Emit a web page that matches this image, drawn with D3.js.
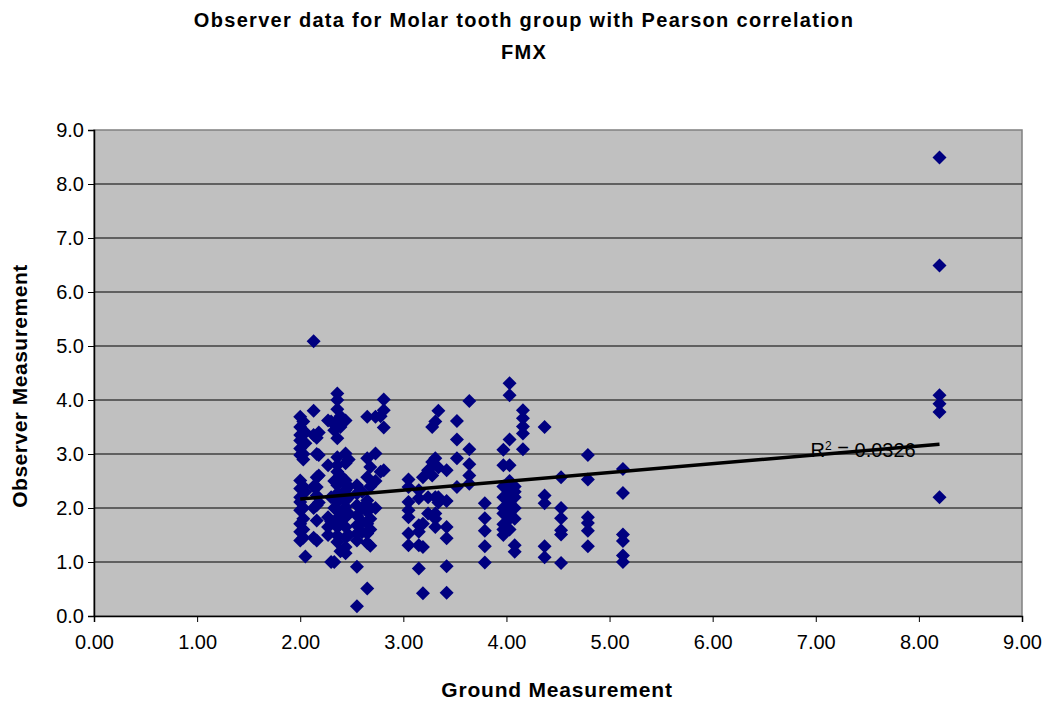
<!DOCTYPE html>
<html>
<head>
<meta charset="utf-8">
<script src="https://cdn.jsdelivr.net/npm/d3@7"></script>
<style>
  body { margin: 0; background: #fff; }
  text { font-family: "Liberation Sans", Arial, sans-serif; }
</style>
</head>
<body>
<svg id="chart"></svg>
<script>
// ground measurement levels, and observer readings taken at each level
const groundLevels = [2.00, 2.03, 2.05, 2.13, 2.16, 2.18, 2.27, 2.30, 2.33, 2.36, 2.39, 2.44, 2.47,
    2.55, 2.60, 2.65, 2.68, 2.73, 2.78, 2.81,
    3.05, 3.15, 3.19, 3.24, 3.28, 3.31, 3.34, 3.42, 3.52, 3.64,
    3.79, 3.97, 4.03, 4.08, 4.16, 4.37, 4.53, 4.79, 5.13, 8.20];

const observerReadings = [
    [3.69, 3.5, 3.35, 3.25, 3.1, 2.98, 2.51, 2.36, 2.2, 2.11, 1.96, 1.71, 1.56, 1.4],
    [3.6, 3.0, 2.9, 2.4, 2.0, 1.8, 1.6, 1.45],
    [3.4, 3.2, 2.3, 1.1],
    [5.09, 3.8, 3.35, 2.4, 2.0, 1.45],
    [3.3, 3.0, 2.57, 2.39, 2.23, 2.05, 1.77, 1.4],
    [3.4, 2.98, 2.6, 2.1],
    [3.62, 2.79, 1.83, 1.65, 1.5],
    [3.6, 2.2, 1.75, 1.0],
    [3.44, 2.5, 2.0, 1.0],
    [4.12, 4.0, 3.83, 3.62, 3.29, 2.94, 2.79, 2.67, 2.42, 2.27, 2.11, 1.96, 1.81, 1.65, 1.49, 1.37],
    [3.7, 3.5, 2.6, 2.2, 1.9, 1.7, 1.2],
    [3.62, 3.01, 2.83, 2.51, 2.33, 2.14, 2.02, 1.83, 1.65, 1.46, 1.28, 1.16],
    [2.9, 2.4, 2.2, 1.9, 1.5],
    [2.42, 2.27, 2.05, 1.86, 1.68, 1.53, 1.4, 0.91, 0.18],
    [2.3, 2.0, 1.75, 1.55],
    [3.69, 2.92, 2.57, 2.14, 1.93, 1.71, 1.53, 1.35, 0.51],
    [2.76, 2.4, 2.0, 1.8, 1.6, 1.3],
    [3.69, 3.01, 2.5, 2.0],
    [3.7, 2.67],
    [4.01, 3.81, 3.49, 2.7],
    [2.53, 2.39, 2.11, 1.96, 1.83, 1.53, 1.31],
    [2.33, 2.18, 1.68, 1.56, 1.31, 0.88],
    [2.57, 1.71, 1.28, 0.42],
    [2.7, 2.2, 1.9],
    [3.5, 2.85, 2.6],
    [3.6, 2.92, 2.2, 1.9, 1.8, 1.65],
    [3.8, 2.75, 2.2, 2.1],
    [2.7, 2.13, 1.65, 1.44, 0.92, 0.43],
    [3.61, 3.27, 2.92, 2.39],
    [3.98, 3.09, 2.81, 2.6, 2.45],
    [2.09, 1.81, 1.58, 1.29, 0.99],
    [3.08, 2.79, 2.4, 2.2, 2.0, 1.9, 1.7, 1.6, 1.5],
    [4.31, 4.09, 3.27, 2.79, 2.5, 2.3, 2.1, 1.9, 1.8, 1.6],
    [2.4, 2.3, 2.2, 2.0, 1.8, 1.31, 1.19],
    [3.81, 3.66, 3.51, 3.38, 3.09],
    [3.5, 2.23, 2.09, 1.29, 1.09],
    [2.57, 2.0, 1.81, 1.59, 1.51, 0.98],
    [2.98, 2.53, 1.83, 1.72, 1.58, 1.29],
    [2.72, 2.28, 1.51, 1.39, 1.12, 1.0],
    [8.49, 6.49, 4.09, 3.93, 3.78, 2.2]
];

const xTicks = [0, 1, 2, 3, 4, 5, 6, 7, 8, 9];
const yTicks = [0, 1, 2, 3, 4, 5, 6, 7, 8, 9];
const rSquaredLabel = "0.0326";

const margin = {top: 130, right: 31, bottom: 88, left: 94},
    svgWidth = 1053,
    svgHeight = 704,
    width = svgWidth - margin.left - margin.right,
    height = svgHeight - margin.top - margin.bottom;

const points = [];
groundLevels.forEach(function(g, i) {
    observerReadings[i].forEach(function(o) { points.push({ground: g, observer: o}); });
});

const chart = d3.select("#chart")
    .attr("width", svgWidth)
    .attr("height", svgHeight);

const inner = chart.append("g")
    .attr("transform", `translate(${margin.left},${margin.top})`);

var xScale = d3.scaleLinear().domain([0, 9]).range([0, width]);
var yScale = d3.scaleLinear().domain([0, 9]).range([height, 0]);

inner.append("rect")
    .attr("width", width).attr("height", height)
    .attr("fill", "#c0c0c0")
    .attr("stroke", "#808080")
    .attr("stroke-width", 1.5);

// gridlines
inner.append("g").selectAll("line")
    .data(yTicks.slice(1, -1))
    .enter().append("line")
    .attr("x1", 0).attr("x2", width)
    .attr("y1", d => yScale(d)).attr("y2", d => yScale(d))
    .attr("stroke", "#000").attr("stroke-width", 1);

var xAxis = d3.axisBottom(xScale).tickValues(xTicks).tickFormat(d3.format(".2f")).tickSizeOuter(0).tickSize(6).tickPadding(13);
var yAxis = d3.axisLeft(yScale).tickValues(yTicks).tickFormat(d3.format(".1f")).tickSizeOuter(0).tickSize(6).tickPadding(4);

const gx = inner.append("g").attr("transform", `translate(0,${height})`).call(xAxis);
const gy = inner.append("g").call(yAxis);
[gx, gy].forEach(function(g) {
    g.select(".domain").attr("stroke", "#000").attr("stroke-width", 1.5);
    g.selectAll(".tick line").attr("stroke", "#000");
    g.selectAll(".tick text").attr("fill", "#000").style("font-size", "20px")
        .style("font-family", '"Liberation Sans", Arial, sans-serif');
});

// least squares trendline
const mx = d3.mean(points, d => d.ground), my = d3.mean(points, d => d.observer);
const slope = d3.sum(points, d => (d.ground - mx) * (d.observer - my)) / d3.sum(points, d => (d.ground - mx) ** 2);
const intercept = my - slope * mx;
const xExt = d3.extent(points, d => d.ground);

var diamond = d3.symbol().type(d3.symbolSquare).size(98);
inner.append("g").selectAll("path")
    .data(points)
    .enter().append("path")
    .attr("d", diamond)
    .attr("transform", d => `translate(${xScale(d.ground)},${yScale(d.observer)}) rotate(45)`)
    .attr("fill", "#000080");

var trendline = d3.line()
    .x(d => xScale(d))
    .y(d => yScale(intercept + slope * d));

inner.append("path")
    .datum(xExt)
    .attr("d", trendline)
    .attr("stroke", "#000").attr("stroke-width", 3.5).attr("fill", "none");

const rText = inner.append("text")
    .attr("x", xScale(6.95)).attr("y", yScale(3.0) + 3)
    .style("font-size", "20px").attr("fill", "#000");
rText.append("tspan").text("R");
rText.append("tspan").attr("dy", -7).style("font-size", "12px").text("2");
rText.append("tspan").attr("dy", 7).text(" = " + rSquaredLabel);

chart.append("text")
    .attr("x", 524).attr("y", 27)
    .attr("text-anchor", "middle")
    .style("font-size", "20px").style("font-weight", "bold")
    .style("letter-spacing", "1.3px")
    .text("Observer data for Molar tooth group with Pearson correlation");

chart.append("text")
    .attr("x", 524).attr("y", 59)
    .attr("text-anchor", "middle")
    .style("font-size", "20px").style("font-weight", "bold")
    .style("letter-spacing", "1.3px")
    .text("FMX");

chart.append("text")
    .attr("x", 557).attr("y", 697)
    .attr("text-anchor", "middle")
    .style("font-size", "21px").style("font-weight", "bold")
    .style("letter-spacing", "0.8px")
    .text("Ground Measurement");

chart.append("text")
    .attr("transform", `translate(27,386) rotate(-90)`)
    .attr("text-anchor", "middle")
    .style("font-size", "21px").style("font-weight", "bold")
    .style("letter-spacing", "0.5px")
    .text("Observer Measurement");
</script>
</body>
</html>
